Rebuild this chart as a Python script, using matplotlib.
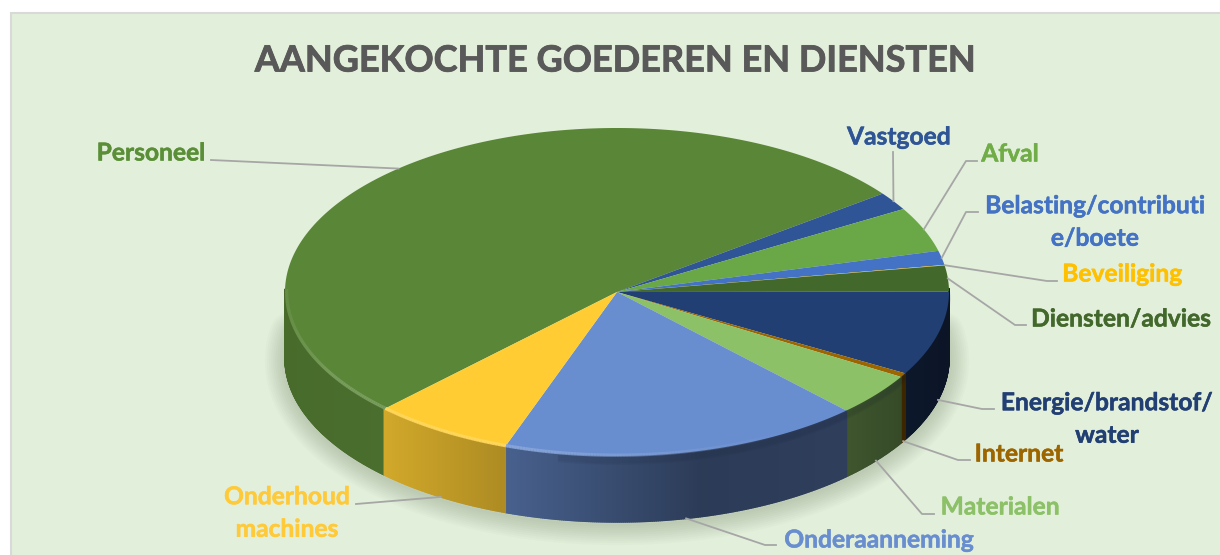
import numpy as np
import matplotlib
matplotlib.use('Agg')
import matplotlib.pyplot as plt
import matplotlib.patheffects as pe
from matplotlib.collections import PolyCollection, LineCollection
from matplotlib.colors import to_rgb
from matplotlib.patches import Rectangle

plt.rcParams['font.family'] = ['Lato', 'DejaVu Sans']

# data (percent), clockwise from the start angle
title = 'AANGEKOCHTE GOEDEREN EN DIENSTEN'
categories = ['Personeel', 'Vastgoed', 'Afval', 'Belasting/contributi\ne/boete', 'Beveiliging',
              'Diensten/advies', 'Energie/brandstof/\nwater', 'Internet', 'Materialen',
              'Onderaanneming', 'Onderhoud\nmachines']
shares = [52.4, 1.8, 4.4, 1.4, 0.05, 2.55, 8.3, 0.4, 4.2, 17.6, 6.9]

colors = ['#5A8637', '#2F5597', '#6AA746', '#4472C4', '#FFC000', '#43682B',
          '#223F73', '#9C6500', '#8CC168', '#698ED0', '#FFCD33']
label_colors = ['#5A8F37', '#2F5597', '#70AD47', '#4472C4', '#FFC000', '#43682B',
                '#223F73', '#9C6500', '#8CC168', '#698ED0', '#FFCA3A']

# layout, in pixels of the 1220x555 picture
cx, cy, rx, ry, depth = 617, 292, 332, 164, 66
start_angle = 225.5
label_xy = [(151, 153), (899, 137), (1010, 154), (1095, 222), (1122, 274), (1121, 319),
            (1107, 419), (1019, 454), (1000, 507), (879, 540), (287, 513)]
# elbow point and end point of each leader line
elbow_xy = [None, None, (966, 161), (966, 212), (1047, 281), (1015, 325),
            (982, 409), (958, 460), (922, 514), (765, 545), None]
end_xy = [(211, 160), (893, 152), (977, 161), (978, 212), (1057, 281), (1026, 325),
          (994, 409), (970, 460), (934, 514), (776, 545), (356, 504)]


def rim(deg, dy=0.0, r=1.0):
    a = np.radians(deg)
    return cx + r*rx*np.cos(a), cy - r*ry*np.sin(a) + dy


def side_shade(x):
    # the light comes from the left, the wall gets darker to the right
    return np.interp(x, [285, 384, 505, 700, 850, 948], [0.80, 0.82, 0.68, 0.42, 0.44, 0.33])


fig = plt.figure(figsize=(12.2, 5.55), dpi=100, facecolor='white')
ax = fig.add_axes([0, 0, 1, 1])
ax.set_xlim(0, 1220)
ax.set_ylim(555, 0)
ax.axis('off')

ax.add_patch(Rectangle((10.5, 12.5), 1215, 550, facecolor='#E2EFDA', edgecolor='#D9D9D9', lw=1.5, zorder=0))

# angles of the slices
total = float(np.sum(shares))
edges = start_angle - np.concatenate([[0], np.cumsum(shares)]) * 360.0 / total

# soft shadow under the wall
arc = np.linspace(-190, 10, 240)
sx, sy = rim(arc, depth + 3)
for w in range(2, 30, 3):
    ax.plot(sx, sy, color='#4A5A40', alpha=0.022, lw=w, solid_capstyle='round', zorder=1)

# wall, made of thin strips
polys, polycolors = [], []
for i, col in enumerate(colors):
    base = np.array(to_rgb(col))
    a0, a1 = edges[i], edges[i+1]
    n = max(2, int(abs(a0 - a1) * 3))
    aa = np.linspace(a0, a1, n)
    for a, b in zip(aa[:-1], aa[1:]):
        if np.sin(np.radians((a + b) / 2)) > 0.02:
            continue
        x0, y0 = rim(a)
        x1, y1 = rim(b)
        polys.append([(x0, y0), (x1, y1), (x1, y1 + depth), (x0, y0 + depth)])
        polycolors.append(base * side_shade((x0 + x1) / 2))
ax.add_collection(PolyCollection(polys, facecolors=polycolors, edgecolors=polycolors, lw=1.1, zorder=2))

# dark blur just under the top edge on the right part of the wall
for k in range(1, 6):
    x, y = rim(np.linspace(-100, 0, 200), 1.5 * k)
    ax.plot(x, y, color='#10182A', alpha=0.06, lw=2, zorder=2.5)

# top face
for i, col in enumerate(colors):
    aa = np.linspace(edges[i], edges[i+1], max(2, int(abs(edges[i] - edges[i+1]) * 2)))
    x, y = rim(aa)
    ax.fill(np.r_[cx, x], np.r_[cy, y], facecolor=col, edgecolor='none', zorder=3)

# bevel: light edge on the left and front that fades out to the right
for i, col in enumerate(colors):
    base = np.array(to_rgb(col))
    aa = np.linspace(edges[i], edges[i+1], max(2, int(abs(edges[i] - edges[i+1]) * 2) + 1))
    aa = aa[np.sin(np.radians(aa)) < 0.02]
    if len(aa) < 2:
        continue
    x, y = rim(aa, r=0.995)
    pts = np.column_stack([x, y])
    segs = np.stack([pts[:-1], pts[1:]], axis=1)
    light = base + (1 - base) * 0.22
    fade = np.interp((x[:-1] + x[1:]) / 2, [285, 330, 520, 790], [0.3, 0.85, 0.9, 0.0])
    ax.add_collection(LineCollection(segs, colors=[(*light, f) for f in fade], lw=2.4, zorder=4, capstyle='butt'))

# labels and leader lines
thick = [pe.withStroke(linewidth=0.35, foreground=c) for c in label_colors]
for i, name in enumerate(categories):
    mid = (edges[i] + edges[i+1]) / 2
    on_front = np.sin(np.radians(mid)) < 0
    ax_, ay_ = rim(mid, depth if on_front else 0)
    pts = [(ax_, ay_)]
    if elbow_xy[i] is not None:
        pts.append(elbow_xy[i])
    pts.append(end_xy[i])
    ax.plot(*zip(*pts), color='#A6A6A6', lw=1.3, zorder=5, solid_joinstyle='round')
    ax.text(label_xy[i][0], label_xy[i][1], name, color=label_colors[i], fontsize=17.7, fontweight='bold',
            ha='center', va='center', linespacing=1.5, zorder=6, path_effects=[thick[i]])

ax.text(615, 61, title, color='#595959', fontsize=26, fontweight='bold', ha='center', va='center', zorder=6,
        path_effects=[pe.withStroke(linewidth=0.6, foreground='#595959')])

fig.savefig('out.png', dpi=100)
